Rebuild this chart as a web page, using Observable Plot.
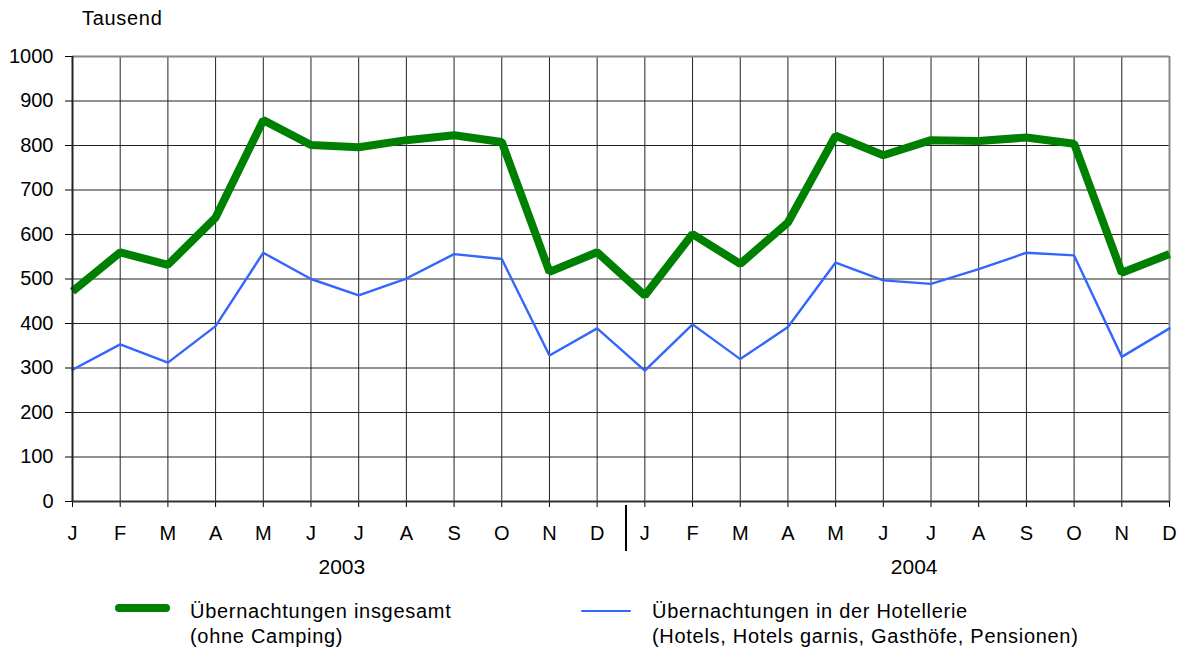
<!DOCTYPE html>
<html><head><meta charset="utf-8">
<script src="https://cdn.jsdelivr.net/npm/d3@7"></script>
<script src="https://cdn.jsdelivr.net/npm/@observablehq/plot@0.6"></script>
<style>
body{margin:0;background:#fff;font-family:"Liberation Sans",Arial,sans-serif;color:#000;}
#wrap{position:relative;width:1184px;height:653px;overflow:hidden;}
#wrap svg{position:absolute;left:0;top:0;}
.lbl{position:absolute;font-size:20px;line-height:25px;white-space:nowrap;letter-spacing:0.7px;}
.key{position:absolute;}
</style></head><body>
<div id="wrap"></div>
<script>
const months = ["J","F","M","A","M","J","J","A","S","O","N","D","J","F","M","A","M","J","J","A","S","O","N","D"];
const years = ["2003","2004"];
const unitLabel = "Tausend";
const seriesNames = [
  ["Übernachtungen insgesamt", "(ohne Camping)"],
  ["Übernachtungen in der Hotellerie", "(Hotels, Hotels garnis, Gasthöfe, Pensionen)"]
];
const insgesamt = [472, 560, 532, 638, 857, 801, 796, 812, 823, 808, 516, 560,
                   463, 601, 534, 627, 822, 778, 812, 810, 818, 804, 514, 556];
const hotellerie = [296, 353, 312, 394, 559, 500, 463, 501, 556, 545, 328, 389,
                    294, 398, 320, 392, 537, 497, 489, 522, 559, 553, 325, 389];
const yTicks = d3.range(0, 1001, 100);
const colors = ["#008000", "#3366ff"];

const idx = d3.range(months.length);
const yearPos = [{x: 5.5, t: years[0]}, {x: 17.5, t: years[1]}];

const chart = Plot.plot({
  width: 1184,
  height: 653,
  marginLeft: 72,
  marginRight: 15,
  marginTop: 56,
  marginBottom: 152,
  style: {fontFamily: "'Liberation Sans', Arial, sans-serif", fontSize: "20px", color: "#000", background: "transparent"},
  x: {domain: [0, months.length - 1], ticks: idx, tickFormat: i => months[i], tickSize: 6, tickPadding: 18, label: null},
  y: {domain: [0, 1000], ticks: yTicks, tickFormat: d => String(d), tickSize: 7, tickPadding: 12, label: null},
  marks: [
    Plot.ruleY(yTicks.slice(1, -1), {stroke: "#222", strokeWidth: 1}),
    Plot.ruleX(idx.slice(1, -1), {stroke: "#222", strokeWidth: 1}),
    Plot.ruleY([1000], {stroke: "#888", strokeWidth: 2}),
    Plot.ruleX([months.length - 1], {stroke: "#888", strokeWidth: 2}),
    Plot.lineY(hotellerie, {x: (d, i) => i, y: d => d, stroke: colors[1], strokeWidth: 2.4, strokeLinejoin: "miter"}),
    Plot.lineY(insgesamt, {x: (d, i) => i, y: d => d, stroke: colors[0], strokeWidth: 8, strokeLinejoin: "miter", strokeLinecap: "butt"}),
    Plot.ruleY([0], {stroke: "#333", strokeWidth: 2}),
    Plot.ruleX([0], {stroke: "#222", strokeWidth: 2}),
    Plot.ruleX([11.5], {stroke: "#000", strokeWidth: 2, dx: 5, insetTop: 449, insetBottom: -50}),
    Plot.text(yearPos, {x: "x", text: "t", frameAnchor: "bottom", dy: 72, dx: 7, fontSize: 21})
  ]
});
const wrap = document.getElementById("wrap");
wrap.appendChild(chart);

function addLabel(text, left, top) {
  const d = document.createElement("div");
  d.className = "lbl";
  d.textContent = text;
  d.style.left = left + "px";
  d.style.top = top + "px";
  wrap.appendChild(d);
  return d;
}
addLabel(unitLabel, 82, 6);

const keys = [
  {x0: 115, w: 55, y: 608, h: 8, tx: 190},
  {x0: 581, w: 50, y: 611, h: 2.4, tx: 652}
];
keys.forEach((k, i) => {
  const s = document.createElement("div");
  s.className = "key";
  s.style.left = k.x0 + "px";
  s.style.top = (k.y - k.h / 2) + "px";
  s.style.width = k.w + "px";
  s.style.height = k.h + "px";
  s.style.background = colors[i];
  s.style.borderRadius = (k.h / 2) + "px";
  wrap.appendChild(s);
  addLabel(seriesNames[i][0], k.tx, 599);
  addLabel(seriesNames[i][1], k.tx, 624);
});
</script>
</body></html>
